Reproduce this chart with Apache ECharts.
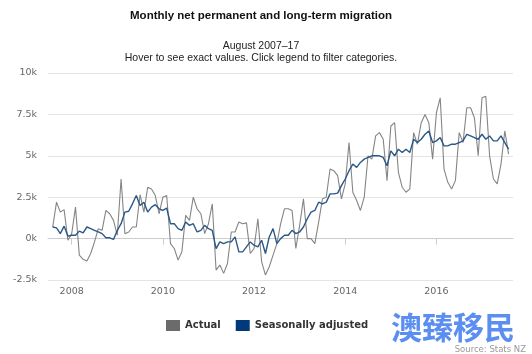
<!DOCTYPE html>
<html>
<head>
<meta charset="utf-8">
<style>
  html, body { margin: 0; padding: 0; background: #fff; }
  #chart { width: 532px; height: 354px; }
</style>
<script src="https://cdn.jsdelivr.net/npm/echarts@6/dist/echarts.min.js"></script>
</head>
<body>
<div id="chart"></div>
<script>
// first point is August 2007, one value per month, in thousands
const startYear = 2007;
const startMonth = 8;
const yearTicks = [2008, 2010, 2012, 2014, 2016];

const actual = [
  0.7, 2.2, 1.6, 1.75, -0.1, 0.3, 1.9, -1.0, -1.25, -1.35,
  -0.9, -0.2, 0.6, 0.5, 1.7, 1.5, 1.1, 0.2, 3.6, 0.3,
  0.4, 0.7, 0.7, 2.65, 1.6, 3.1, 3.0, 2.6, 1.5, 2.5,
  2.6, -0.3, -0.6, -1.3, -0.8, 1.4, 1.1, 2.5, 1.8, 1.5,
  0.3, 0.9, 2.1, -1.9, -1.6, -2.1, -1.5, 0.4, 0.4, 1.0,
  0.9, 0.95, -0.9, -0.6, 1.2, -1.4, -2.2, -1.7, -1.0, -0.3,
  0.9, 1.8, 1.8, 1.7, -0.6, 0.8, 2.4, 0.0, 0.0, -0.3,
  1.0, 2.4, 2.5, 4.2, 4.1, 3.8, 2.4, 3.3, 5.8, 2.8,
  2.3, 1.7, 2.5, 5.0, 4.8, 6.2, 6.4, 6.0, 3.5, 6.8,
  7.0, 4.0, 3.1, 2.8, 3.0, 6.4, 5.7, 7.0, 7.5, 7.0,
  4.8, 7.6, 8.5, 4.2, 3.4, 3.0, 3.5, 6.4, 5.8, 7.9,
  7.9, 7.3, 5.0, 8.5, 8.6, 5.0, 3.6, 3.3, 4.5, 6.5,
  5.1
];

const seasonal = [
  0.7, 0.65, 0.3, 0.75, 0.15, 0.2, 0.2, 0.45, 0.35, 0.7,
  0.6, 0.5, 0.4, 0.3, 0.05, 0.05, -0.05, 0.5, 0.9, 1.6,
  1.65, 2.1, 2.6, 2.0, 2.2, 1.6, 1.9, 2.05, 1.8, 1.7,
  1.85, 0.9, 0.9, 0.6, 0.5, 1.0, 0.8, 0.9, 0.4, 0.5,
  0.8, 0.6, 0.5, -0.6, -0.2, -0.3, -0.2, -0.2, 0.1, -0.8,
  -0.8, -0.5, -0.2, -0.4, -0.5, -0.1, -0.9, 0.1, 0.6, -0.3,
  0.0, 0.2, 0.2, 0.5, 0.3, 0.4, 0.7, 1.2, 1.6, 1.7,
  2.2, 2.1, 2.2, 2.7, 2.7, 2.75, 3.2, 3.6, 4.1, 4.5,
  4.3, 4.6, 4.8, 4.9, 5.0, 5.0, 5.0, 4.9, 4.4, 5.3,
  5.0, 5.4, 5.2, 5.4, 5.2, 6.0, 5.8, 6.0, 6.3, 6.5,
  5.8, 5.9, 6.1, 5.6, 5.6, 5.7, 5.7, 5.8, 5.9, 6.3,
  6.2, 6.1, 6.0, 6.3, 6.0, 6.2, 5.9, 5.9, 6.2, 5.8,
  5.4
];

function toPoints(values) {
  return values.map(function (v, i) {
    return [startYear + (startMonth - 1 + i) / 12, v];
  });
}

const chart = echarts.init(document.getElementById('chart'));

const subStyle = { fontFamily: 'Liberation Sans', fontSize: 10.5, fontWeight: 'normal', color: '#222' };

chart.setOption({
  animation: false,
  color: ['#7a7a7a', '#2b5886'],
  title: [
    {
      text: 'Monthly net permanent and long-term migration',
      left: 256,
      textAlign: 'center',
      top: 5,
      textStyle: { fontFamily: 'Liberation Sans', fontSize: 11.5, fontWeight: 'bold', color: '#111' }
    },
    { text: 'August 2007\u201317', left: 256, textAlign: 'center', top: 36, textStyle: subStyle },
    { text: 'Hover to see exact values. Click legend to filter categories.', left: 256, textAlign: 'center', top: 48, textStyle: subStyle }
  ],
  legend: {
    bottom: 18,
    left: 161,
    icon: 'rect',
    itemWidth: 14,
    itemHeight: 11,
    itemGap: 15,
    textStyle: { fontFamily: 'DejaVu Sans', fontSize: 10, fontWeight: 'bold', color: '#333' },
    data: [
      { name: 'Actual', itemStyle: { color: '#6b6b6b' } },
      { name: 'Seasonally adjusted', itemStyle: { color: '#003a7a' } }
    ]
  },
  grid: { left: 48, right: 19, top: 73, bottom: 74 },
  xAxis: {
    type: 'value',
    min: 2007.48,
    max: 2017.68,
    splitLine: { show: false },
    axisLine: { show: true, lineStyle: { color: '#cccccc' } },
    axisTick: { show: true, customValues: yearTicks, length: 6, lineStyle: { color: '#cccccc' } },
    axisLabel: {
      customValues: yearTicks,
      fontFamily: 'DejaVu Sans',
      fontSize: 9.5,
      color: '#666',
      margin: 7,
      formatter: function (v) { return String(Math.round(v)); }
    }
  },
  yAxis: {
    type: 'value',
    min: -2.5,
    max: 10,
    interval: 2.5,
    axisLine: { show: false },
    axisTick: { show: false },
    splitLine: { lineStyle: { color: '#e4e4e4' } },
    axisLabel: {
      fontFamily: 'DejaVu Sans',
      fontSize: 9.5,
      color: '#666',
      margin: 11,
      formatter: function (v) { return v + 'k'; }
    }
  },
  series: [
    {
      name: 'Actual',
      type: 'line',
      showSymbol: false,
      lineStyle: { width: 1.1, color: '#858585' },
      data: toPoints(actual)
    },
    {
      name: 'Seasonally adjusted',
      type: 'line',
      showSymbol: false,
      lineStyle: { width: 1.4, color: '#2b5886' },
      data: toPoints(seasonal)
    }
  ],
  graphic: [
    {
      type: 'text',
      right: 17,
      top: 312,
      style: { text: '澳臻移民', fontFamily: 'Noto Sans CJK SC', fontSize: 31, fontWeight: 'bold', fill: '#5a8ef0' }
    },
    {
      type: 'text',
      right: 6,
      top: 345,
      style: { text: 'Source: Stats NZ', fontFamily: 'DejaVu Sans', fontSize: 8.5, fill: '#999' }
    }
  ]
});
</script>
</body>
</html>
